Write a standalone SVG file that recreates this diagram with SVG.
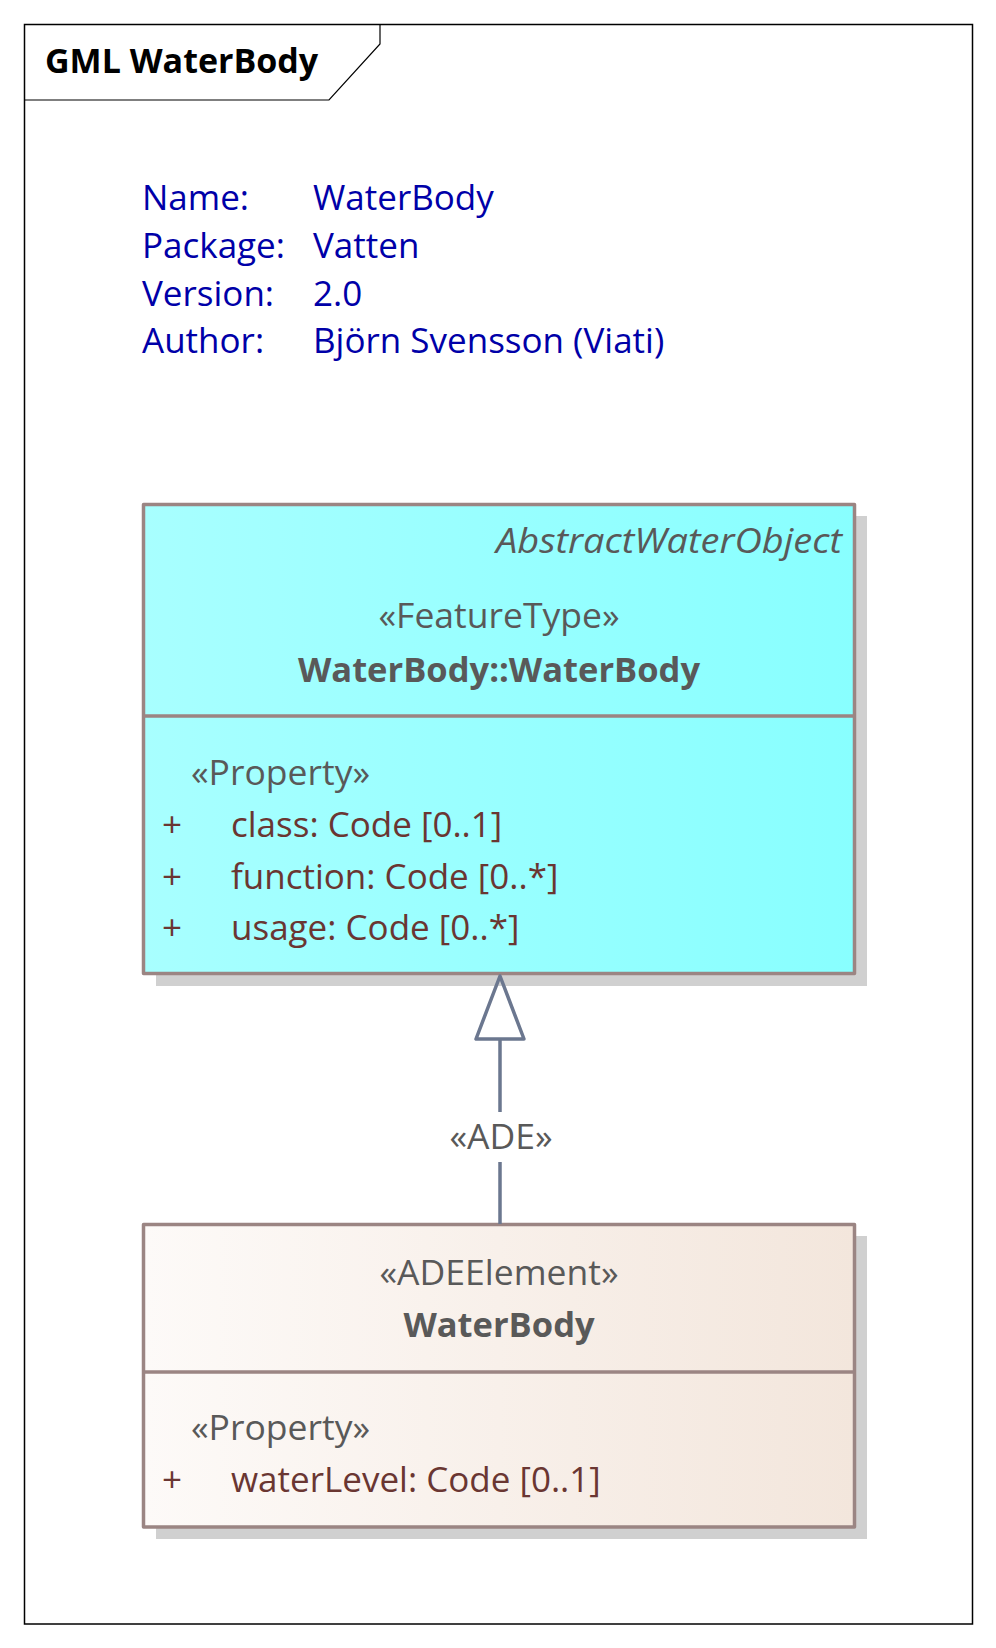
<svg xmlns="http://www.w3.org/2000/svg" width="996" height="1648" viewBox="0 0 996 1648">
<style>
text{font-family:"Open Sans","Noto Sans","Liberation Sans",sans-serif;font-size:35px}
.title{font-weight:bold;fill:#000;font-size:34px}
.meta{fill:#0000a8}
.hdr{fill:#595959;font-size:35.5px}
.b{font-weight:bold;font-size:34.5px}
.it{font-style:italic}
.attr{fill:#6a3632}
.box{stroke:#9b8583;stroke-width:3.5;stroke-linejoin:round}
.shadow{fill:#d0d0d0}
.conn{stroke:#6b778f;stroke-width:3.5;fill:none}
</style>
<defs>
<linearGradient id="cyan" x1="0" x2="1" y1="0" y2="0">
<stop offset="0" stop-color="#a8ffff"/>
<stop offset="1" stop-color="#88ffff"/>
</linearGradient>
<linearGradient id="beige" x1="0" x2="1" y1="0" y2="0">
<stop offset="0" stop-color="#fdfaf8"/>
<stop offset="1" stop-color="#f3e6dc"/>
</linearGradient>
</defs>
<rect width="996" height="1648" fill="#fff"/>
<g id="frame">
<rect x="24.5" y="24.5" width="948" height="1599.5" fill="none" stroke="#000" stroke-width="1.5"/>
<path d="M24.5,100 H329 L380,44 V24.5" fill="none" stroke="#000" stroke-width="1.2"/>
<text class="title" x="45" y="73">GML WaterBody</text>
</g>
<g id="info">
<text class="meta" x="142" y="210">Name:</text>
<text class="meta" x="313" y="210">WaterBody</text>
<text class="meta" x="142" y="258">Package:</text>
<text class="meta" x="313" y="258">Vatten</text>
<text class="meta" x="142" y="306">Version:</text>
<text class="meta" x="313" y="306">2.0</text>
<text class="meta" x="142" y="353">Author:</text>
<text class="meta" x="313" y="353">Björn Svensson (Viati)</text>
</g>
<g id="node-abstract">
<rect class="shadow" x="156" y="516" width="711" height="470"/>
<rect class="box" x="143.5" y="504.5" width="711" height="469" fill="url(#cyan)"/>
<line class="box" x1="143.5" y1="716" x2="854.5" y2="716"/>
<text class="hdr it" x="496" y="553" textLength="346" lengthAdjust="spacingAndGlyphs">AbstractWaterObject</text>
<text class="hdr" x="499" y="628" text-anchor="middle">«FeatureType»</text>
<text class="hdr b" x="499" y="682" text-anchor="middle">WaterBody::WaterBody</text>
<text class="hdr" x="191" y="785">«Property»</text>
<text class="attr" x="162" y="837">+</text>
<text class="attr" x="231" y="837">class: Code [0..1]</text>
<text class="attr" x="162" y="888.5">+</text>
<text class="attr" x="231" y="888.5">function: Code [0..*]</text>
<text class="attr" x="162" y="940">+</text>
<text class="attr" x="231" y="940">usage: Code [0..*]</text>
</g>
<g id="node-ade">
<rect class="shadow" x="156" y="1236" width="711" height="303"/>
<rect class="box" x="143.5" y="1224.5" width="711" height="302.5" fill="url(#beige)"/>
<line class="box" x1="143.5" y1="1372" x2="854.5" y2="1372"/>
<text class="hdr" x="499" y="1285" text-anchor="middle">«ADEElement»</text>
<text class="hdr b" x="499" y="1337" text-anchor="middle">WaterBody</text>
<text class="hdr" x="191" y="1440">«Property»</text>
<text class="attr" x="162" y="1492">+</text>
<text class="attr" x="231" y="1492">waterLevel: Code [0..1]</text>
</g>
<g id="connectors">
<path class="conn" d="M500,1224 V1162 M500,1112 V1039"/>
<polygon class="conn" points="500,976 476,1039 524,1039" fill="#f8f0eb" stroke-linejoin="round"/>
<text class="hdr" x="501" y="1149" text-anchor="middle">«ADE»</text>
</g>
</svg>
